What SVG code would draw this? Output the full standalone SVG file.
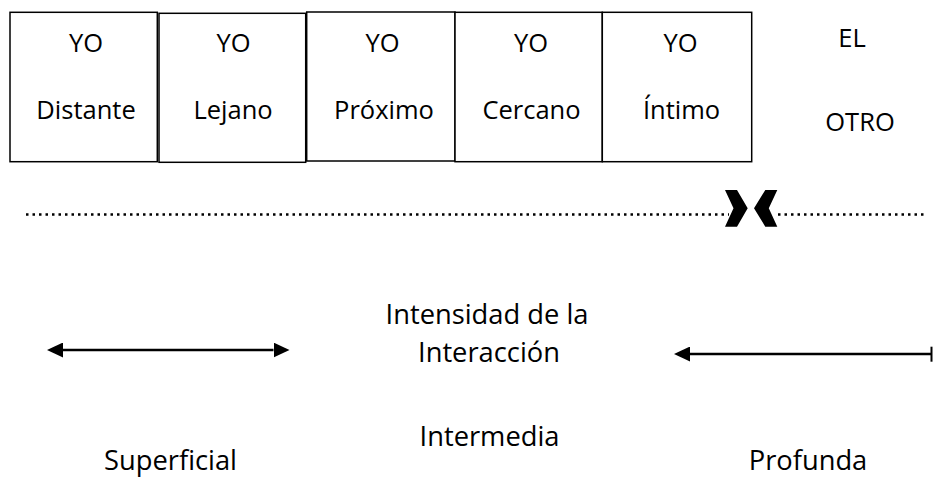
<svg xmlns="http://www.w3.org/2000/svg" width="933" height="477" viewBox="0 0 933 477">
<style>
.box{fill:#fff;stroke:#000;stroke-width:1.5}
.t{font-family:"Open Sans","Noto Sans",sans-serif;font-size:25.5px;fill:#000;text-anchor:middle}
.b{font-size:27.3px}
.dots{stroke:#000;stroke-width:2.5;stroke-dasharray:2.5 4;fill:none}
.arr{stroke:#000;stroke-width:2.5;fill:none}
</style>
<defs>
<marker id="head" markerUnits="userSpaceOnUse" markerWidth="16" markerHeight="15" viewBox="0 0 16 15" refX="0" refY="7.5" orient="auto-start-reverse">
<path d="M0,0 L16,7.5 L0,15 Z" fill="#000"/>
</marker>
</defs>
<g id="yo-distante"><rect class="box" x="10" y="12.3" width="147.3" height="149.4"/><text class="t" x="86" y="51.5">YO</text><text class="t" x="86" y="119">Distante</text></g>
<g id="yo-lejano"><rect class="box" x="159" y="13.3" width="146.7" height="149"/><text class="t" x="233.5" y="51.5">YO</text><text class="t" x="233" y="119">Lejano</text></g>
<g id="yo-proximo"><rect class="box" x="306.7" y="12" width="148.3" height="149"/><text class="t" x="382.5" y="51.5">YO</text><text class="t" x="384" y="119">Próximo</text></g>
<g id="yo-cercano"><rect class="box" x="455" y="12.3" width="147.3" height="149.4"/><text class="t" x="531" y="51.5">YO</text><text class="t" x="531.5" y="119">Cercano</text></g>
<g id="yo-intimo"><rect class="box" x="602.3" y="12.3" width="149.4" height="149.4"/><text class="t" x="680.5" y="51.5">YO</text><text class="t" x="681.5" y="119">Íntimo</text></g>
<g id="el-otro"><text class="t" x="852" y="47">EL</text><text class="t" x="860" y="131">OTRO</text></g>
<g id="connectors">
<line class="dots" x1="26" y1="214.5" x2="729" y2="214.5"/>
<line class="dots" x1="778" y1="214.5" x2="927" y2="214.5"/>
<polygon points="725,190 737,190 747.7,208.3 737,226.7 725,226.7 733.5,208.3" fill="#000"/>
<polygon points="777.3,190 765.3,190 754,208.3 765.3,226.7 777.3,226.7 768.8,208.3" fill="#000"/>
<line class="arr" x1="63" y1="350" x2="273.5" y2="350" marker-start="url(#head)" marker-end="url(#head)"/>
<line class="arr" x1="690" y1="354" x2="931.5" y2="354" marker-start="url(#head)"/>
<line x1="931.5" y1="346.7" x2="931.5" y2="361.7" stroke="#000" stroke-width="2"/>
</g>
<g id="labels">
<text class="t b" x="487" y="324">Intensidad de la</text>
<text class="t b" x="489" y="362">Interacción</text>
<text class="t b" x="489.5" y="446">Intermedia</text>
<text class="t b" x="170.5" y="470">Superficial</text>
<text class="t b" x="808" y="470">Profunda</text>
</g>
</svg>
